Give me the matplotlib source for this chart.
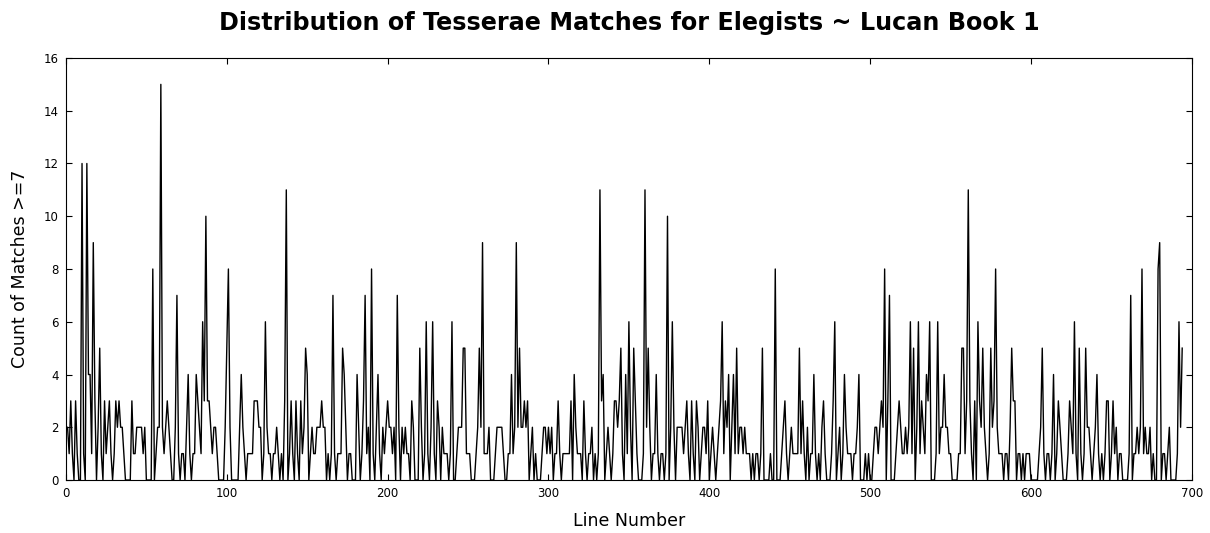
import matplotlib
matplotlib.use("Agg")
import matplotlib.pyplot as plt

# count of tesserae matches (score >= 7) per line of Lucan book 1, rows of 10 lines
counts = [
    2, 2, 1, 3, 1, 0, 3, 1, 0, 0,
    12, 1, 0, 12, 4, 4, 1, 9, 3, 0,
    2, 5, 1, 0, 3, 1, 2, 3, 1, 0,
    1, 3, 2, 3, 2, 2, 1, 0, 0, 0,
    0, 3, 1, 1, 2, 2, 2, 2, 1, 2,
    0, 0, 0, 0, 8, 0, 1, 2, 2, 15,
    2, 1, 2, 3, 2, 1, 0, 0, 2, 7,
    1, 0, 1, 1, 0, 2, 4, 1, 0, 1,
    1, 4, 3, 2, 1, 6, 3, 10, 3, 3,
    2, 1, 2, 2, 1, 0, 0, 0, 0, 2,
    5, 8, 2, 0, 0, 0, 0, 0, 2, 4,
    2, 1, 0, 1, 1, 1, 1, 3, 3, 3,
    2, 2, 0, 1, 6, 2, 1, 1, 0, 1,
    1, 2, 1, 0, 1, 0, 3, 11, 0, 1,
    3, 1, 0, 3, 1, 0, 3, 1, 2, 5,
    4, 0, 1, 2, 1, 1, 2, 2, 2, 3,
    2, 2, 0, 1, 0, 1, 7, 1, 0, 1,
    1, 1, 5, 4, 2, 0, 1, 1, 0, 0,
    0, 4, 2, 0, 1, 3, 7, 1, 2, 0,
    8, 1, 0, 2, 4, 1, 0, 2, 1, 2,
    3, 2, 2, 1, 2, 0, 7, 2, 0, 2,
    1, 2, 1, 1, 0, 3, 2, 0, 0, 0,
    5, 2, 0, 1, 6, 1, 0, 2, 6, 1,
    0, 3, 2, 0, 2, 1, 1, 1, 0, 1,
    6, 0, 0, 1, 2, 2, 2, 5, 5, 1,
    1, 1, 0, 0, 0, 1, 2, 5, 2, 9,
    1, 1, 1, 2, 0, 0, 0, 1, 2, 2,
    2, 2, 1, 0, 0, 1, 1, 4, 1, 2,
    9, 2, 5, 2, 2, 3, 2, 3, 0, 1,
    2, 0, 1, 0, 0, 0, 1, 2, 2, 1,
    2, 1, 2, 0, 1, 1, 3, 1, 0, 1,
    1, 1, 1, 1, 3, 0, 4, 2, 1, 1,
    1, 0, 3, 1, 0, 1, 1, 2, 0, 1,
    0, 1, 11, 3, 4, 0, 1, 2, 1, 0,
    1, 3, 3, 2, 3, 5, 1, 0, 4, 1,
    6, 2, 0, 5, 3, 1, 0, 0, 0, 1,
    11, 2, 5, 2, 0, 1, 1, 4, 1, 0,
    1, 1, 0, 1, 10, 0, 2, 6, 2, 0,
    2, 2, 2, 2, 1, 2, 3, 1, 0, 3,
    1, 0, 3, 2, 0, 1, 2, 2, 1, 3,
    0, 1, 2, 1, 0, 1, 2, 3, 6, 1,
    3, 2, 4, 0, 2, 4, 1, 5, 1, 2,
    2, 1, 2, 1, 1, 1, 0, 1, 0, 1,
    1, 0, 1, 5, 0, 0, 0, 0, 1, 0,
    0, 8, 0, 0, 0, 1, 2, 3, 1, 0,
    1, 2, 1, 1, 1, 1, 5, 1, 3, 1,
    0, 2, 0, 1, 1, 4, 1, 0, 1, 0,
    2, 3, 1, 0, 0, 0, 1, 3, 6, 0,
    1, 2, 0, 1, 4, 2, 1, 1, 1, 0,
    1, 1, 2, 4, 0, 0, 0, 1, 0, 1,
    0, 0, 1, 2, 2, 1, 2, 3, 2, 8,
    0, 3, 7, 0, 0, 0, 1, 2, 3, 2,
    1, 1, 2, 1, 2, 6, 1, 5, 0, 2,
    6, 1, 3, 2, 1, 4, 3, 6, 0, 0,
    0, 1, 6, 1, 2, 2, 4, 2, 2, 1,
    1, 0, 0, 0, 0, 1, 1, 5, 5, 1,
    3, 11, 3, 1, 0, 3, 0, 6, 3, 2,
    5, 2, 1, 0, 1, 5, 2, 3, 8, 2,
    1, 1, 1, 0, 1, 1, 0, 2, 5, 3,
    3, 0, 1, 1, 0, 1, 0, 1, 1, 1,
    0, 0, 0, 0, 0, 1, 2, 5, 1, 0,
    1, 1, 0, 1, 4, 0, 1, 3, 2, 1,
    0, 0, 0, 1, 3, 2, 1, 6, 1, 0,
    5, 1, 0, 1, 5, 2, 2, 1, 0, 1,
    2, 4, 1, 0, 1, 0, 1, 3, 3, 0,
    1, 3, 1, 2, 0, 1, 1, 0, 0, 0,
    0, 1, 7, 0, 1, 1, 2, 1, 2, 8,
    1, 2, 1, 1, 2, 0, 1, 0, 0, 8,
    9, 0, 1, 1, 0, 1, 2, 0, 0, 0,
    0, 1, 6, 2, 5,
]
lines = list(range(len(counts)))

fig = plt.figure(figsize=(12.1, 5.33), dpi=100)
ax = fig.add_axes([0.0545, 0.0994, 0.9305, 0.7918])
ax.plot(lines, counts, color="black", linewidth=1)

ax.set_xlim(0, 700)
ax.set_ylim(0, 16)
ax.set_xticks(range(0, 701, 100))
ax.set_yticks(range(0, 17, 2))
ax.tick_params(direction="in", top=True, right=True, labelsize=8.5, length=4, pad=5)

ax.set_xlabel("Line Number", fontsize=12.5, labelpad=9)
ax.set_ylabel("Count of Matches >=7", fontsize=12.5, labelpad=11)
ax.set_title("Distribution of Tesserae Matches for Elegists ~ Lucan Book 1",
             fontsize=17.2, fontweight="bold", pad=20)

fig.savefig("out.png", dpi=100, facecolor="white")
